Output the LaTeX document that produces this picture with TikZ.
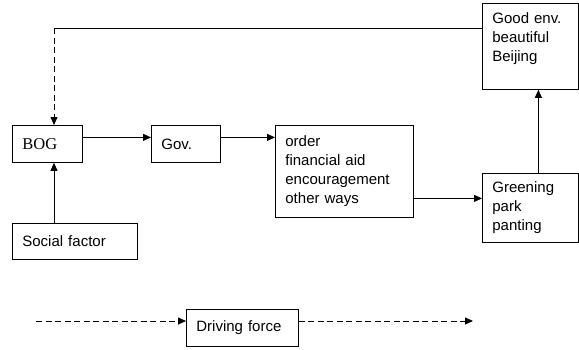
\documentclass[tikz,border=0pt]{standalone}
\usepackage{fontspec}
\setmainfont{Liberation Sans}
\newfontfamily\bogfont{Liberation Serif}
\usetikzlibrary{arrows.meta}
\tikzset{
	box/.style={draw, line width=0.8pt, rectangle, anchor=north west, align=left, inner xsep=10pt, inner ysep=0pt, font=\fontsize{15}{19}\selectfont},
	flow/.style={line width=0.8pt, -{Triangle[length=8pt,width=7pt]}},
	feedback/.style={flow, dash pattern=on 6pt off 3.5pt}
}

\begin{document}
\begin{tikzpicture}[x=1pt, y=-1pt]
			%%%%% START %%%%%
			\useasboundingbox (0, 0) rectangle (579, 349);
			
			\node[box, text width=50pt, minimum height=37pt] (bog) at (12, 125) {\bogfont\fontsize{16.5}{19}\selectfont BOG};
			\node[box, text width=49pt, minimum height=37pt] (gov) at (151, 125) {Gov.};
			\node[box, text width=105pt, minimum height=36pt] (social) at (12, 223) {Social factor};
			\node[box, text width=118pt, minimum height=92pt] (order) at (275, 125) {order\\financial aid\\encouragement\\other ways};
			\node[box, text width=76pt, minimum height=69pt] (green) at (482, 173) {Greening\\park\\panting};
			\node[box, text width=76pt, minimum height=86pt, text depth=57pt] (good) at (482, 3) {Good env.\\beautiful\\Beijing};
			
			\draw[flow] ([xshift=42pt]social.north west) -- ([xshift=42pt]bog.south west);
			\draw[flow] ([yshift=6.5pt]bog.east) -- ([yshift=6.5pt]gov.west);
			\draw[flow] ([yshift=6.5pt]gov.east) -- ([yshift=6.5pt]gov.east -| order.west);
			\draw[flow] ([yshift=-27pt]order.east) -- ([yshift=-27pt]order.east -| green.west);
			\draw[flow] ([xshift=8pt]green.north) -- ([xshift=8pt]good.south);
			
			% back to BOG: solid across, dashed down
			\coordinate (bogtop) at ([xshift=42pt]bog.north west);
			\coordinate (goodside) at ([yshift=-25pt]good.north west);
			\coordinate (turn) at (goodside -| bogtop);
			\draw[line width=0.8pt] (goodside) -- (turn);
			\draw[feedback] (turn) -- (bogtop);
			
			%%%%% LEGEND %%%%%
			\node[box, text width=92pt, minimum height=37pt] (drive) at (186, 309) {Driving force};
			\coordinate (dl) at (36, 321);
			\coordinate (dr) at (473, 321);
			\draw[feedback] (dl) -- (dl -| drive.west);
			\draw[feedback] (dl -| drive.east) -- (dr);
			
			%%%%% END %%%%%
		\end{tikzpicture}
\end{document}
